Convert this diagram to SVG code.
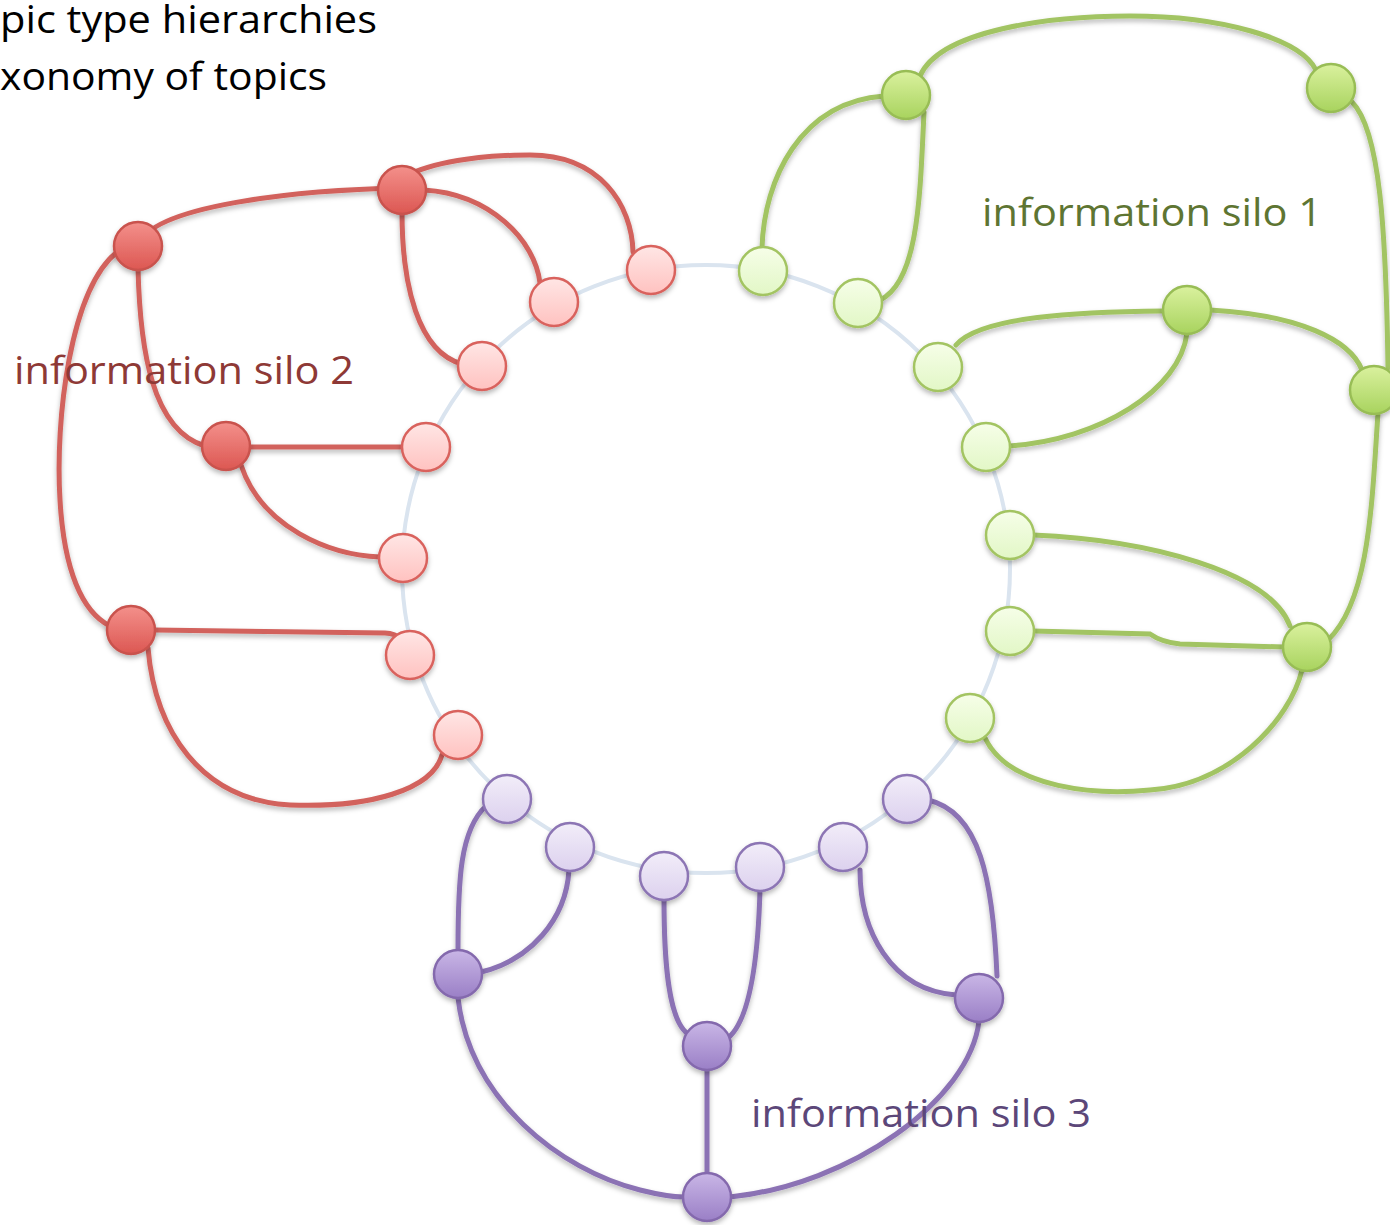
<svg xmlns="http://www.w3.org/2000/svg" width="1390" height="1225" viewBox="0 0 1390 1225">
  <defs>
    <filter id="shadow" filterUnits="userSpaceOnUse" x="-50" y="-50" width="1500" height="1330">
      <feDropShadow dx="0" dy="3" stdDeviation="2.5" flood-color="#000" flood-opacity="0.28"/>
    </filter>
    <linearGradient id="gRedHub" x1="0" y1="0" x2="0" y2="1">
      <stop offset="0" stop-color="#f4908b"/>
      <stop offset="1" stop-color="#dc5752"/>
    </linearGradient>
    <linearGradient id="gRedLeaf" x1="0" y1="0" x2="0" y2="1">
      <stop offset="0" stop-color="#ffe6e5"/>
      <stop offset="1" stop-color="#ffc2c0"/>
    </linearGradient>
    <linearGradient id="gGreenHub" x1="0" y1="0" x2="0" y2="1">
      <stop offset="0" stop-color="#daf19e"/>
      <stop offset="1" stop-color="#a8d35e"/>
    </linearGradient>
    <linearGradient id="gGreenLeaf" x1="0" y1="0" x2="0" y2="1">
      <stop offset="0" stop-color="#f6fee8"/>
      <stop offset="1" stop-color="#e2f7c6"/>
    </linearGradient>
    <linearGradient id="gPurpleHub" x1="0" y1="0" x2="0" y2="1">
      <stop offset="0" stop-color="#c9b6e6"/>
      <stop offset="1" stop-color="#9a7fc6"/>
    </linearGradient>
    <linearGradient id="gPurpleLeaf" x1="0" y1="0" x2="0" y2="1">
      <stop offset="0" stop-color="#f2edf9"/>
      <stop offset="1" stop-color="#dcd1ee"/>
    </linearGradient>
  </defs>
  <style>
    .txt { font-family: "Open Sans", "Liberation Sans", sans-serif; }
    .ring { fill: none; stroke: #dae4ef; stroke-width: 4; }
    .edge { fill: none; stroke-width: 5; stroke-linecap: round; filter: url(#shadow); }
    .edge.red { stroke: #d2625d; }
    .edge.green { stroke: #a2c463; }
    .edge.purple { stroke: #8b72b4; }
    .node circle { stroke-width: 2.5; filter: url(#shadow); }
    .hub.red circle { fill: url(#gRedHub); stroke: #c9524d; }
    .leaf.red circle { fill: url(#gRedLeaf); stroke: #d9625d; }
    .hub.green circle { fill: url(#gGreenHub); stroke: #98bd55; }
    .leaf.green circle { fill: url(#gGreenLeaf); stroke: #a3c462; }
    .hub.purple circle { fill: url(#gPurpleHub); stroke: #8469ad; }
    .leaf.purple circle { fill: url(#gPurpleLeaf); stroke: #8c74b4; }
  </style>

  <rect width="1390" height="1225" fill="#ffffff"/>

  <!-- heading lines -->
  <text class="txt" x="0" y="33" font-size="38" fill="#000" textLength="377" lengthAdjust="spacingAndGlyphs">pic type hierarchies</text>
  <text class="txt" x="0" y="90" font-size="38" fill="#000" textLength="327" lengthAdjust="spacingAndGlyphs">xonomy of topics</text>

  <!-- central ring -->
  <circle class="ring" cx="706" cy="569" r="304"/>

  <g id="connectors">
    <!-- silo 2 (red) -->
    <path class="edge red" d="M138 246 C150 205 300 190 402 188"/>
    <path class="edge red" d="M410 174 C440 160 490 155 530 155 C600 155 632 205 633 252"/>
    <path class="edge red" d="M424 190 C490 194 535 240 540 283"/>
    <path class="edge red" d="M402 212 C402 285 418 352 462 364"/>
    <path class="edge red" d="M138 268 C140 350 152 430 205 446"/>
    <path class="edge red" d="M117 252 C70 290 55 420 60 500 C64 570 82 612 110 626"/>
    <path class="edge red" d="M248 447 L403 447"/>
    <path class="edge red" d="M241 465 C262 528 330 555 380 557"/>
    <path class="edge red" d="M154 630 L385 633 C395 633 400 638 402 640"/>
    <path class="edge red" d="M148 648 C155 730 200 800 290 805 C370 808 432 790 442 755"/>
    <!-- silo 1 (green) -->
    <path class="edge green" d="M920 76 C940 30 1050 16 1130 16 C1220 16 1300 38 1316 70"/>
    <path class="edge green" d="M884 96 C800 102 764 180 762 248"/>
    <path class="edge green" d="M924 112 C920 200 918 282 880 300"/>
    <path class="edge green" d="M1352 102 C1380 130 1386 230 1388 368"/>
    <path class="edge green" d="M1164 311 C1080 312 980 316 956 345"/>
    <path class="edge green" d="M1187 333 C1180 390 1100 440 1009 446"/>
    <path class="edge green" d="M1210 310 C1300 315 1350 340 1362 370"/>
    <path class="edge green" d="M1378 413 C1372 500 1370 600 1328 640"/>
    <path class="edge green" d="M1033 535 C1150 540 1270 572 1290 626"/>
    <path class="edge green" d="M1033 631 L1150 634 C1160 641 1170 643 1180 644 L1284 647"/>
    <path class="edge green" d="M985 738 C1010 790 1100 795 1150 790 C1230 785 1290 720 1302 670"/>
    <!-- silo 3 (purple) -->
    <path class="edge purple" d="M458 950 C458 880 460 830 486 806"/>
    <path class="edge purple" d="M481 972 C530 960 566 920 569 870"/>
    <path class="edge purple" d="M458 998 C470 1100 560 1170 640 1190 C660 1195 672 1197 684 1197"/>
    <path class="edge purple" d="M688 1034 C668 1020 664 960 664 899"/>
    <path class="edge purple" d="M728 1038 C750 1020 758 960 760 890"/>
    <path class="edge purple" d="M707 1070 L707 1174"/>
    <path class="edge purple" d="M956 995 C890 990 860 930 860 870"/>
    <path class="edge purple" d="M928 800 C980 812 993 880 997 976"/>
    <path class="edge purple" d="M979 1021 C970 1100 850 1185 730 1197"/>
  </g>

  <!-- silo 2 hubs -->
  <g id="r-hub-top" class="node hub red"><circle cx="402" cy="190" r="24"/></g>
  <g id="r-hub-left" class="node hub red"><circle cx="138" cy="246" r="24"/></g>
  <g id="r-hub-mid" class="node hub red"><circle cx="226" cy="446" r="24"/></g>
  <g id="r-hub-low" class="node hub red"><circle cx="131" cy="630" r="24"/></g>
  <!-- silo 2 leaves -->
  <g id="r-leaf-1" class="node leaf red"><circle cx="651" cy="270" r="24"/></g>
  <g id="r-leaf-2" class="node leaf red"><circle cx="554" cy="302" r="24"/></g>
  <g id="r-leaf-3" class="node leaf red"><circle cx="482" cy="366" r="24"/></g>
  <g id="r-leaf-4" class="node leaf red"><circle cx="426" cy="447" r="24"/></g>
  <g id="r-leaf-5" class="node leaf red"><circle cx="403" cy="558" r="24"/></g>
  <g id="r-leaf-6" class="node leaf red"><circle cx="410" cy="655" r="24"/></g>
  <g id="r-leaf-7" class="node leaf red"><circle cx="458" cy="735" r="24"/></g>

  <!-- silo 1 hubs -->
  <g id="g-hub-top" class="node hub green"><circle cx="906" cy="95" r="24"/></g>
  <g id="g-hub-corner" class="node hub green"><circle cx="1331" cy="88" r="24"/></g>
  <g id="g-hub-mid" class="node hub green"><circle cx="1187" cy="310" r="24"/></g>
  <g id="g-hub-edge" class="node hub green"><circle cx="1374" cy="390" r="24"/></g>
  <g id="g-hub-low" class="node hub green"><circle cx="1307" cy="647" r="24"/></g>
  <!-- silo 1 leaves -->
  <g id="g-leaf-1" class="node leaf green"><circle cx="763" cy="271" r="24"/></g>
  <g id="g-leaf-2" class="node leaf green"><circle cx="858" cy="303" r="24"/></g>
  <g id="g-leaf-3" class="node leaf green"><circle cx="938" cy="367" r="24"/></g>
  <g id="g-leaf-4" class="node leaf green"><circle cx="986" cy="447" r="24"/></g>
  <g id="g-leaf-5" class="node leaf green"><circle cx="1010" cy="535" r="24"/></g>
  <g id="g-leaf-6" class="node leaf green"><circle cx="1010" cy="631" r="24"/></g>
  <g id="g-leaf-7" class="node leaf green"><circle cx="970" cy="718" r="24"/></g>

  <!-- silo 3 hubs -->
  <g id="p-hub-left" class="node hub purple"><circle cx="458" cy="974" r="24"/></g>
  <g id="p-hub-mid" class="node hub purple"><circle cx="707" cy="1046" r="24"/></g>
  <g id="p-hub-right" class="node hub purple"><circle cx="979" cy="998" r="24"/></g>
  <g id="p-hub-root" class="node hub purple"><circle cx="707" cy="1197" r="24"/></g>
  <!-- silo 3 leaves -->
  <g id="p-leaf-1" class="node leaf purple"><circle cx="507" cy="799" r="24"/></g>
  <g id="p-leaf-2" class="node leaf purple"><circle cx="570" cy="847" r="24"/></g>
  <g id="p-leaf-3" class="node leaf purple"><circle cx="664" cy="876" r="24"/></g>
  <g id="p-leaf-4" class="node leaf purple"><circle cx="760" cy="867" r="24"/></g>
  <g id="p-leaf-5" class="node leaf purple"><circle cx="843" cy="847" r="24"/></g>
  <g id="p-leaf-6" class="node leaf purple"><circle cx="907" cy="799" r="24"/></g>

  <!-- silo labels -->
  <text class="txt" x="982" y="226" font-size="38" fill="#5e7532" textLength="340" lengthAdjust="spacingAndGlyphs">information silo 1</text>
  <text class="txt" x="14" y="384" font-size="38" fill="#8e3936" textLength="340" lengthAdjust="spacingAndGlyphs">information silo 2</text>
  <text class="txt" x="751" y="1127" font-size="38" fill="#5c4779" textLength="340" lengthAdjust="spacingAndGlyphs">information silo 3</text>
</svg>
